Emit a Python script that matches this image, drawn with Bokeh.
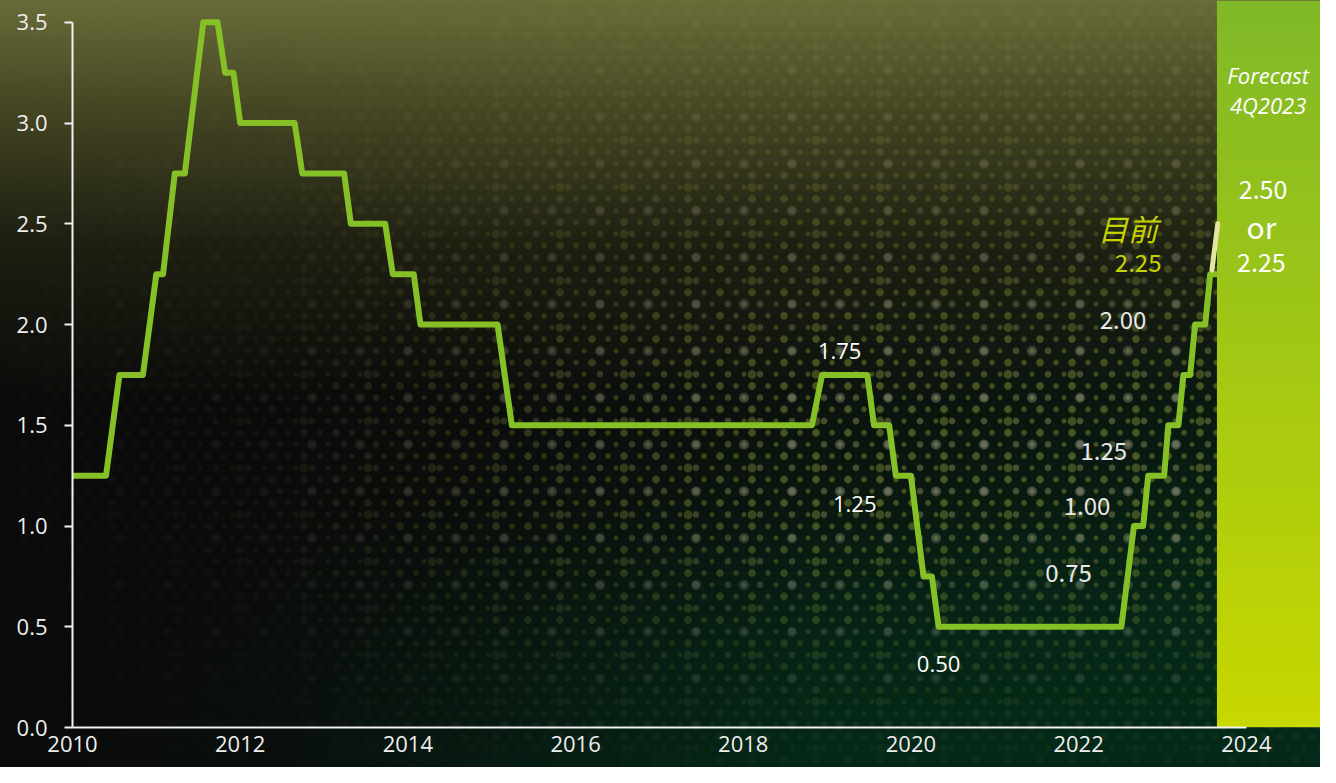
import numpy as np
from bokeh.plotting import figure
from bokeh.models import Range1d, FixedTicker
from bokeh.core.properties import value
from bokeh.embed import file_html
from bokeh.resources import INLINE

# ---------------- data ----------------
dates = [2010.00, 2010.40, 2010.56, 2010.84, 2011.00, 2011.08, 2011.22, 2011.34,
         2011.56, 2011.73, 2011.82, 2011.92, 2012.00, 2012.65, 2012.74, 2013.24,
         2013.32, 2013.73, 2013.82, 2014.07, 2014.15, 2015.07, 2015.24, 2018.82,
         2018.94, 2019.48, 2019.56, 2019.74, 2019.82, 2020.00, 2020.15, 2020.25,
         2020.33, 2022.51, 2022.66, 2022.77, 2022.83, 2023.02, 2023.07, 2023.19,
         2023.25, 2023.33, 2023.39, 2023.51, 2023.57, 2023.65]
rates = [1.25, 1.25, 1.75, 1.75, 2.25, 2.25, 2.75, 2.75,
         3.50, 3.50, 3.25, 3.25, 3.00, 3.00, 2.75, 2.75,
         2.50, 2.50, 2.25, 2.25, 2.00, 2.00, 1.50, 1.50,
         1.75, 1.75, 1.50, 1.50, 1.25, 1.25, 0.75, 0.75,
         0.50, 0.50, 1.00, 1.00, 1.25, 1.25, 1.50, 1.50,
         1.75, 1.75, 2.00, 2.00, 2.25, 2.25]

forecast_x = [2023.59, 2023.66]
forecast_y = [2.27, 2.50]
forecast_start = 2023.65

x_ticks = [2010, 2012, 2014, 2016, 2018, 2020, 2022, 2024]
x_tick_labels = ["2010", "2012", "2014", "2016", "2018", "2020", "2022", "2024"]
y_ticks = [0.0, 0.5, 1.0, 1.5, 2.0, 2.5, 3.0, 3.5]
y_tick_labels = ["0.0", "0.5", "1.0", "1.5", "2.0", "2.5", "3.0", "3.5"]

ann_left_text = ["1.75", "1.25", "0.50"]
ann_left_x = [2019.15, 2019.33, 2020.33]
ann_left_y = [1.87, 1.11, 0.316]

ann_right_text = ["0.75", "1.00", "1.25", "2.00"]
ann_right_x = [2021.88, 2022.10, 2022.30, 2022.53]
ann_right_y = [0.767, 1.097, 1.374, 2.024]

current_text = ["目前", "2.25"]
current_x = [2022.59, 2022.71]
current_y = [2.48, 2.306]

panel_title = ["Forecast", "4Q2023"]
panel_title_x = [2024.26, 2024.26]
panel_title_y = [3.238, 3.087]

panel_values = ["2.50", "or", "2.25"]
panel_values_x = [2024.20, 2024.18, 2024.18]
panel_values_y = [2.67, 2.49, 2.306]

X_END = 2024.885
Y_END = 3.608

# ---------------- figure ----------------
p = figure(width=1320, height=767, x_range=Range1d(2010, X_END), y_range=Range1d(0, Y_END),
           output_backend="svg", toolbar_location=None,
           min_border_left=72, min_border_right=0, min_border_top=0, min_border_bottom=40)
p.background_fill_color = None
p.border_fill_color = None
p.outline_line_color = None
p.grid.visible = False


def dot(rgba, r, pos, size):
    return ("radial-gradient(circle, %s 0, %s %.1fpx, rgba(0,0,0,0) %.1fpx) %s / %s"
            % (rgba, rgba, r, r + 0.7, pos, size))


p.styles = {
    "background": ", ".join([
        "linear-gradient(180deg, rgba(108,111,58,0.96) 0%, rgba(84,86,42,0.78) 14%, rgba(50,51,24,0.45) 32%, rgba(0,0,0,0) 52%)",
        "linear-gradient(90deg, rgba(10,10,10,0.97) 0%, rgba(10,10,10,0.85) 20%, rgba(10,10,10,0.35) 42%, rgba(10,10,10,0) 62%)",
        "linear-gradient(0deg, rgba(4,40,24,0.93) 0%, rgba(4,40,24,0.6) 14%, rgba(4,40,24,0) 34%)",
        dot("rgba(170,170,150,0.35)", 4.6, "0 0", "48px 46.8px"),
        dot("rgba(150,160,60,0.40)", 4.0, "16px 23.4px", "64px 46.8px"),
        dot("rgba(125,138,50,0.55)", 3.4, "0 0", "32px 23.4px"),
        dot("rgba(125,138,50,0.50)", 2.4, "16px 0", "32px 23.4px"),
        dot("rgba(140,145,90,0.45)", 3.0, "8px 11.7px", "32px 23.4px"),
        dot("rgba(125,138,50,0.50)", 2.1, "24px 11.7px", "32px 23.4px"),
        "linear-gradient(160deg, #3a3a1c 0%, #0d0d0b 38%, #0a150e 62%, #05301b 100%)",
    ])
}

# forecast panel (vertical gradient)
n = 256
top_col = np.array([128, 185, 40], dtype=float)
bot_col = np.array([200, 216, 0], dtype=float)
t = np.linspace(0, 1, n)[:, None]
cols = bot_col + (top_col - bot_col) * t
img = np.empty((n, 1), dtype=np.uint32)
view = img.view(dtype=np.uint8).reshape((n, 1, 4))
view[:, 0, 0] = cols[:, 0].astype(np.uint8)
view[:, 0, 1] = cols[:, 1].astype(np.uint8)
view[:, 0, 2] = cols[:, 2].astype(np.uint8)
view[:, 0, 3] = 255
p.image_rgba(image=[img], x=forecast_start, y=0, dw=X_END - forecast_start, dh=Y_END)

# lines
p.line(dates, rates, line_color="#84c026", line_width=6, line_join="round")
p.line(forecast_x, forecast_y, line_color="#e4e69c", line_width=5, line_cap="round")

# annotations
p.text(ann_left_x, ann_left_y, text=ann_left_text, text_color="#ffffff",
       text_font=value("Open Sans"), text_font_size="22px",
       text_align="center", text_baseline="middle")
p.text(ann_right_x, ann_right_y, text=ann_right_text, text_color="#e8e8e8",
       text_font=value("Noto Sans CJK SC"), text_font_size="24px",
       text_align="center", text_baseline="middle")
p.text(current_x[:1], current_y[:1], text=current_text[:1], text_color="#c6d200",
       text_font=value("Noto Sans CJK SC"), text_font_size="30px", text_font_style="italic",
       text_align="center", text_baseline="middle")
p.text(current_x[1:], current_y[1:], text=current_text[1:], text_color="#c6d200",
       text_font=value("Noto Sans CJK SC"), text_font_size="24px",
       text_align="center", text_baseline="middle")
p.text(panel_title_x, panel_title_y, text=panel_title, text_color="#ffffff",
       text_font=value("Open Sans"), text_font_size="22px", text_font_style="italic",
       text_align="center", text_baseline="middle")
p.text(panel_values_x[:1] + panel_values_x[2:], panel_values_y[:1] + panel_values_y[2:],
       text=panel_values[:1] + panel_values[2:], text_color="#ffffff",
       text_font=value("Noto Sans CJK SC"), text_font_size="25px",
       text_align="center", text_baseline="middle")
p.text(panel_values_x[1:2], panel_values_y[1:2], text=panel_values[1:2], text_color="#ffffff",
       text_font=value("Noto Sans CJK SC"), text_font_size="30px",
       text_align="center", text_baseline="middle")

# axes
xa = p.xaxis[0]
xa.ticker = FixedTicker(ticks=x_ticks)
xa.major_label_overrides = {t: l for t, l in zip(x_ticks, x_tick_labels)}
xa.bounds = (2010, 2024)
xa.axis_line_color = "#f2f2f2"
xa.axis_line_width = 2
xa.major_tick_line_color = None
xa.minor_tick_line_color = None
xa.major_tick_out = 0
xa.major_tick_in = 0
xa.major_label_standoff = 8
xa.major_label_text_color = "#eeeeee"
xa.major_label_text_font = "Open Sans"
xa.major_label_text_font_size = "22px"

ya = p.yaxis[0]
ya.ticker = FixedTicker(ticks=y_ticks)
ya.major_label_overrides = {t: l for t, l in zip(y_ticks, y_tick_labels)}
ya.bounds = (0, 3.5)
ya.axis_line_color = "#f2f2f2"
ya.axis_line_width = 2
ya.major_tick_line_color = "#f2f2f2"
ya.major_tick_line_width = 2
ya.major_tick_out = 8
ya.major_tick_in = 0
ya.minor_tick_line_color = None
ya.major_label_standoff = 17
ya.major_label_text_color = "#eeeeee"
ya.major_label_text_font = "Open Sans"
ya.major_label_text_font_size = "22px"

open("out.html", "w").write(file_html(p, INLINE))
